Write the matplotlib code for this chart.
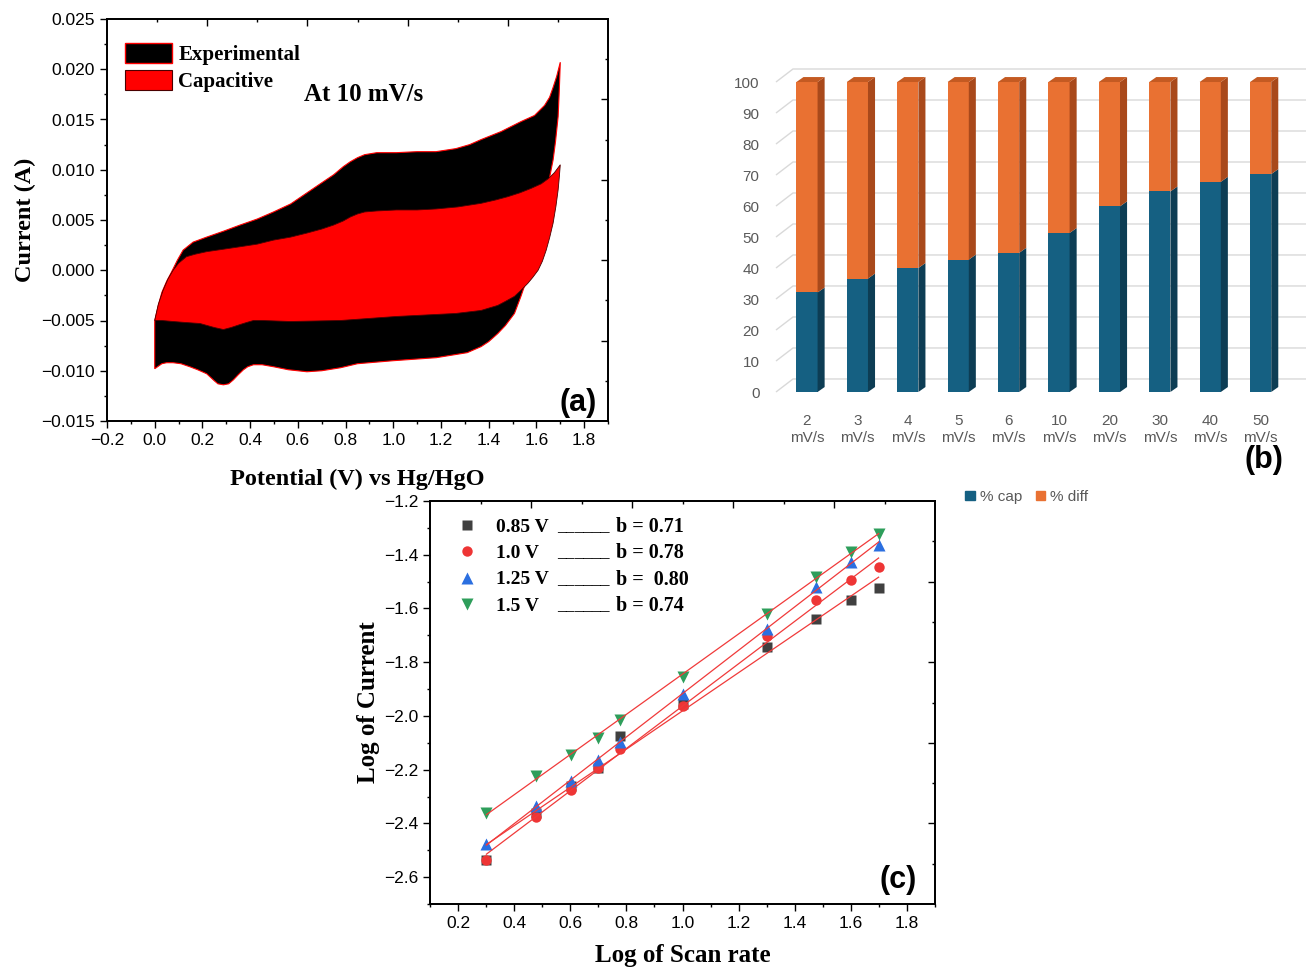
import numpy as np
import matplotlib
matplotlib.use('Agg')
import matplotlib.pyplot as plt
import matplotlib.ticker as mtick
from matplotlib.patches import Patch, Polygon

SERIF = 'Liberation Serif'
SANS = 'Liberation Sans'
plt.rcParams['font.family'] = SANS
plt.rcParams['axes.unicode_minus'] = True

# ---------------------------------------------------------------------------
# (a) CV at 10 mV/s : experimental vs capacitive contribution
# ---------------------------------------------------------------------------
exp_fwd_v = [0.0, 0.015, 0.03, 0.05, 0.07, 0.095, 0.119, 0.161, 0.218, 0.29, 0.358,
             0.43, 0.498, 0.57, 0.638, 0.70, 0.75, 0.79, 0.82, 0.85, 0.88, 0.931,
             1.013, 1.10, 1.179, 1.262, 1.32, 1.368, 1.452, 1.536, 1.592, 1.634,
             1.655, 1.670, 1.685, 1.70]
exp_fwd_i = [-0.0050, -0.0035, -0.0022, -0.0011, -0.0002, 0.0010, 0.0020, 0.0028,
             0.0033, 0.0039, 0.0045, 0.0051, 0.0058, 0.0066, 0.0077, 0.0087, 0.0095,
             0.0103, 0.0108, 0.0112, 0.0115, 0.0117, 0.0117, 0.0118, 0.0118, 0.0121,
             0.0125, 0.0130, 0.0138, 0.0148, 0.0154, 0.0164, 0.0172, 0.0182, 0.0193,
             0.0207]
exp_rev_v = [1.70, 1.696, 1.691, 1.680, 1.670, 1.655, 1.635, 1.61, 1.587, 1.564,
             1.535, 1.508, 1.47, 1.438, 1.40, 1.368, 1.31, 1.18, 1.0, 0.85, 0.779,
             0.70, 0.638, 0.56, 0.498, 0.45, 0.414, 0.39, 0.372, 0.35, 0.33, 0.31,
             0.288, 0.265, 0.25, 0.218, 0.18, 0.147, 0.11, 0.077, 0.05, 0.03, 0.0]
exp_rev_i = [0.0207, 0.0180, 0.0153, 0.0128, 0.0110, 0.0092, 0.0067, 0.0043, 0.0018,
             -0.0006, -0.0026, -0.0043, -0.0055, -0.0063, -0.0071, -0.0076, -0.0082,
             -0.0087, -0.0090, -0.0093, -0.0097, -0.0100, -0.0101, -0.0099, -0.0096,
             -0.0094, -0.0094, -0.0096, -0.0099, -0.0104, -0.0109, -0.0113, -0.0114,
             -0.0113, -0.0110, -0.0103, -0.0099, -0.0096, -0.0093, -0.0092, -0.0092,
             -0.0093, -0.0098]

cap_fwd_v = [0.0, 0.015, 0.035, 0.055, 0.077, 0.10, 0.133, 0.17, 0.218, 0.29, 0.358,
             0.43, 0.498, 0.57, 0.638, 0.70, 0.75, 0.79, 0.82, 0.85, 0.88, 0.93,
             1.013, 1.10, 1.179, 1.27, 1.368, 1.43, 1.480, 1.53, 1.578, 1.62,
             1.649, 1.675, 1.70]
cap_fwd_i = [-0.0050, -0.0034, -0.0020, -0.0009, 0.0000, 0.0007, 0.00135, 0.0016,
             0.00185, 0.0021, 0.00234, 0.0026, 0.0030, 0.0033, 0.0037, 0.0041, 0.0045,
             0.0049, 0.0053, 0.0056, 0.0058, 0.0059, 0.0060, 0.0060, 0.0061, 0.0063,
             0.00666, 0.0070, 0.00732, 0.0077, 0.00815, 0.0086, 0.0091, 0.0097,
             0.0105]
cap_rev_v = [1.70, 1.696, 1.691, 1.682, 1.670, 1.656, 1.641, 1.625, 1.607, 1.585,
             1.564, 1.535, 1.508, 1.47, 1.438, 1.368, 1.262, 1.013, 0.779, 0.568,
             0.45, 0.414, 0.385, 0.358, 0.32, 0.288, 0.25, 0.19, 0.13, 0.077, 0.03,
             0.0]
cap_rev_i = [0.0105, 0.0093, 0.0080, 0.0064, 0.0047, 0.0033, 0.0020, 0.0009, 0.0000,
             -0.0007, -0.0013, -0.0020, -0.0026, -0.0031, -0.0035, -0.0040, -0.0043,
             -0.0046, -0.0050, -0.0051, -0.0050, -0.0050, -0.0052, -0.0054, -0.0057,
             -0.0059, -0.0057, -0.0053, -0.0052, -0.0051, -0.0050, -0.0050]

# ---------------------------------------------------------------------------
# (b) capacitive / diffusive share per scan rate
# ---------------------------------------------------------------------------
rates_b = ['2', '3', '4', '5', '6', '10', '20', '30', '40', '50']
pct_cap = [32.1, 36.6, 40.0, 42.7, 44.9, 51.3, 59.9, 64.7, 67.8, 70.3]
pct_diff = [67.9, 63.4, 60.0, 57.3, 55.1, 48.7, 40.1, 35.3, 32.2, 29.7]

# ---------------------------------------------------------------------------
# (c) log(i) vs log(scan rate)
# ---------------------------------------------------------------------------
scan_rate = [2, 3, 4, 5, 6, 10, 20, 30, 40, 50]
log_i_085 = [-2.538, -2.360, -2.260, -2.195, -2.075, -1.955, -1.744, -1.638, -1.570, -1.522]
log_i_100 = [-2.538, -2.378, -2.276, -2.194, -2.123, -1.962, -1.703, -1.570, -1.495, -1.445]
log_i_125 = [-2.478, -2.335, -2.242, -2.164, -2.098, -1.918, -1.675, -1.520, -1.426, -1.364]
log_i_150 = [-2.360, -2.223, -2.145, -2.082, -2.015, -1.856, -1.619, -1.482, -1.389, -1.321]
series_lbl = ['0.85 V', '1.0 V', '1.25 V', '1.5 V']
b_lbl = ['b = 0.71', 'b = 0.78', 'b =  0.80', 'b = 0.74']


def num_fmt(dec):
    def f(v, pos):
        if abs(v) < 1e-9:
            v = 0.0
        return f'{v:.{dec}f}'.replace('-', '\u2212')
    return mtick.FuncFormatter(f)


def origin_axes(ax, xmaj, ymaj, xdec, ydec):
    ax.xaxis.set_major_locator(mtick.MultipleLocator(xmaj))
    ax.xaxis.set_minor_locator(mtick.MultipleLocator(xmaj / 2))
    ax.yaxis.set_major_locator(mtick.MultipleLocator(ymaj))
    ax.yaxis.set_minor_locator(mtick.MultipleLocator(ymaj / 2))
    ax.xaxis.set_major_formatter(num_fmt(xdec))
    ax.yaxis.set_major_formatter(num_fmt(ydec))
    ax.tick_params(which='both', direction='out', width=1.0, labelsize=12.5,
                   colors='black')
    ax.tick_params(which='major', length=5)
    ax.tick_params(which='minor', length=2.5)
    for s in ax.spines.values():
        s.set_linewidth(1.1)
    # Origin style opposite axes: independent ticks pointing inwards
    tx = ax.twiny()
    tx.set_xlim(0, 1)
    tx.xaxis.set_major_locator(mtick.FixedLocator([0.2, 0.4, 0.6, 0.8]))
    tx.xaxis.set_minor_locator(mtick.FixedLocator([0.1, 0.3, 0.5, 0.7, 0.9]))
    tx.tick_params(axis='x', which='both', direction='in', labeltop=False, width=1.0)
    tx.tick_params(axis='x', which='major', length=5)
    tx.tick_params(axis='x', which='minor', length=2.5)
    ty = ax.twinx()
    ty.set_ylim(0, 1)
    ty.yaxis.set_major_locator(mtick.FixedLocator([0.2, 0.4, 0.6, 0.8]))
    ty.yaxis.set_minor_locator(mtick.FixedLocator([0.1, 0.3, 0.5, 0.7, 0.9]))
    ty.tick_params(axis='y', which='both', direction='in', labelright=False, width=1.0)
    ty.tick_params(axis='y', which='major', length=5)
    ty.tick_params(axis='y', which='minor', length=2.5)
    for t in (tx, ty):
        for s in t.spines.values():
            s.set_linewidth(1.1)


W, H = 1306, 967
fig = plt.figure(figsize=(W / 100, H / 100), dpi=100)
fig.patch.set_facecolor('white')


def px_axes(x0, y0, x1, y1):
    return fig.add_axes([x0 / W, 1 - y1 / H, (x1 - x0) / W, (y1 - y0) / H])


# ----------------------------- panel (a) -----------------------------------
ax_a = px_axes(107, 19, 608, 421)
ax_a.fill(exp_fwd_v + exp_rev_v, exp_fwd_i + exp_rev_i,
          facecolor='black', edgecolor='red', lw=0.8, zorder=2)
ax_a.fill(cap_fwd_v + cap_rev_v, cap_fwd_i + cap_rev_i,
          facecolor='red', edgecolor='#4a0000', lw=0.6, zorder=3)
ax_a.set_xlim(-0.2, 1.9)
ax_a.set_ylim(-0.015, 0.025)
origin_axes(ax_a, 0.2, 0.005, 1, 3)
ax_a.set_xlabel('Potential (V) vs Hg/HgO', family=SERIF, fontweight='bold', fontsize=17.5)
ax_a.set_ylabel('Current (A)', family=SERIF, fontweight='bold', fontsize=17.5)
ax_a.xaxis.set_label_coords(0.5, -0.12)
ax_a.yaxis.set_label_coords(-0.142, 0.5)
ax_a.legend(handles=[Patch(facecolor='black', edgecolor='red', lw=1.0),
                     Patch(facecolor='red', edgecolor='#4a0000', lw=0.8)],
            labels=['Experimental', 'Capacitive'],
            loc='upper left', bbox_to_anchor=(0.036, 0.94), frameon=False,
            borderpad=0, borderaxespad=0, handlelength=2.26, handleheight=1.1,
            handletextpad=0.3, labelspacing=0.22,
            prop={'family': SERIF, 'weight': 'bold', 'size': 15})
ax_a.text(0.394, 0.811, 'At 10 mV/s', transform=ax_a.transAxes, family=SERIF,
          fontweight='bold', fontsize=18, va='center', ha='left')
ax_a.text(0.978, 0.045, '(a)', transform=ax_a.transAxes, fontweight='bold',
          fontsize=22, ha='right', va='center')

# ----------------------------- panel (b) -----------------------------------
C_CAP, C_CAP_SIDE = '#156082', '#0D3D54'
C_DIFF, C_DIFF_SIDE, C_DIFF_TOP = '#E97132', '#A9491B', '#C45A22'
GREY_TXT = '#595959'

ax_b = px_axes(765, 60, 1306, 400)
xb = np.arange(len(rates_b))
bw = 0.42
ax_b.bar(xb, pct_cap, bw, color=C_CAP, zorder=3)
ax_b.bar(xb, pct_diff, bw, bottom=pct_cap, color=C_DIFF, zorder=3)
dx, dy = 0.14, 1.6
for x, c, d in zip(xb, pct_cap, pct_diff):
    xr = x + bw / 2
    ax_b.add_patch(Polygon([(xr, 0), (xr + dx, dy), (xr + dx, c + dy), (xr, c)],
                           closed=True, color=C_CAP_SIDE, lw=0, zorder=3))
    ax_b.add_patch(Polygon([(xr, c), (xr + dx, c + dy), (xr + dx, c + d + dy), (xr, c + d)],
                           closed=True, color=C_DIFF_SIDE, lw=0, zorder=3))
    top = c + d
    ax_b.add_patch(Polygon([(x - bw / 2, top), (xr, top), (xr + dx, top + dy),
                            (x - bw / 2 + dx, top + dy)],
                           closed=True, color=C_DIFF_TOP, lw=0, zorder=3))
xlim_b = (-0.833, 9.9)
ax_b.set_xlim(*xlim_b)
ax_b.set_ylim(-2.58, 107.1)
yt = np.arange(0, 101, 10)
gx0, gx1, gdy = -0.615, -0.278, 4.2
for t in yt:
    ax_b.plot([gx0, gx1, xlim_b[1]], [t, t + gdy, t + gdy], color='#D9D9D9',
              lw=1.0, zorder=1, solid_capstyle='butt')
ax_b.set_yticks(yt)
ax_b.set_xticks(xb)
ax_b.set_xticklabels([f'{r}\nmV/s' for r in rates_b], linespacing=1.3)
ax_b.tick_params(axis='both', length=0, colors=GREY_TXT, labelsize=11)
ax_b.tick_params(axis='y', pad=4)
ax_b.tick_params(axis='x', pad=10)
for s in ax_b.spines.values():
    s.set_visible(False)
ax_b.patch.set_alpha(0)
fig.legend(handles=[Patch(color=C_CAP), Patch(color=C_DIFF)], labels=['% cap', '% diff'],
           loc='center', bbox_to_anchor=(1027 / W, 1 - 497 / H), ncol=2, frameon=False,
           handlelength=0.6, handleheight=0.6, handletextpad=0.35, columnspacing=0.9,
           labelcolor=GREY_TXT, prop={'size': 11})
fig.text(1283 / W, 1 - 460 / H, '(b)', fontweight='bold', fontsize=22,
         ha='right', va='center')

# ----------------------------- panel (c) -----------------------------------
ax_c = px_axes(430, 501, 935, 904)
log_v = np.log10(scan_rate)
styles = [('s', '#404040', 7), ('o', '#EE3535', 7.5), ('^', '#2B6FE0', 8.5),
          ('v', '#2E9E5B', 8.5)]
all_series = [log_i_085, log_i_100, log_i_125, log_i_150]
handles = []
for ys, (m, col, ms) in zip(all_series, styles):
    h, = ax_c.plot(log_v, ys, linestyle='none', marker=m, color=col, ms=ms,
                   mec='none', zorder=3)
    handles.append(h)
for ys in all_series:
    k, b0 = np.polyfit(log_v, ys, 1)
    xs = np.array([log_v[0], log_v[-1]])
    ax_c.plot(xs, k * xs + b0, color='#F03A3A', lw=0.9, zorder=4)
ax_c.set_xlim(0.1, 1.9)
ax_c.set_ylim(-2.7, -1.2)
origin_axes(ax_c, 0.2, 0.2, 1, 1)
ax_c.set_xlabel('Log of Scan rate', family=SERIF, fontweight='bold', fontsize=18)
ax_c.set_ylabel('Log of Current', family=SERIF, fontweight='bold', fontsize=18)
ax_c.xaxis.set_label_coords(0.5, -0.1)
ax_c.yaxis.set_label_coords(-0.1, 0.5)
leg_c = ax_c.legend(handles=handles, labels=series_lbl, loc='upper left',
                    bbox_to_anchor=((457 - 430) / 505, 1 - (518 - 501) / 403),
                    frameon=False, borderpad=0, borderaxespad=0, handlelength=1.0,
                    handletextpad=1.0, labelspacing=0.45,
                    prop={'family': SERIF, 'weight': 'bold', 'size': 14})
fig.canvas.draw()
inv = ax_c.transAxes.inverted()
for txt, bl in zip(leg_c.get_texts(), b_lbl):
    bb = txt.get_window_extent()
    yc = inv.transform(((bb.x0 + bb.x1) / 2, (bb.y0 + bb.y1) / 2))[1]
    ax_c.text((557 - 430) / 505, yc, '______', transform=ax_c.transAxes, family=SERIF,
              fontweight='bold', fontsize=12.5, va='center', ha='left')
    ax_c.text((616 - 430) / 505, yc, bl, transform=ax_c.transAxes, family=SERIF,
              fontweight='bold', fontsize=14.5, va='center', ha='left')
ax_c.text(0.964, 0.06, '(c)', transform=ax_c.transAxes, fontweight='bold',
          fontsize=22, ha='right', va='center')

fig.savefig('out.png', dpi=100)
